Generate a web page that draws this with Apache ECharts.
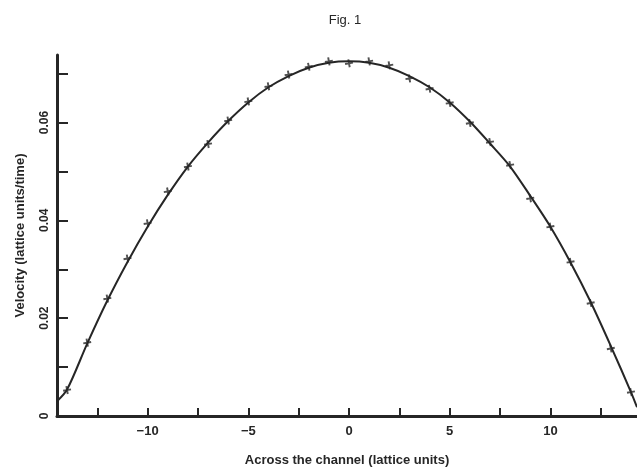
<!DOCTYPE html>
<html>
<head>
<meta charset="utf-8">
<script src="https://cdn.jsdelivr.net/npm/echarts@6/dist/echarts.min.js"></script>
<style>
  html, body { margin: 0; padding: 0; background: #fff; }
  #chart { width: 637px; height: 468px; }
</style>
</head>
<body>
<div id="chart"></div>
<script>
  // positions across the channel (lattice units) where the simulation was sampled
  const across = [-14, -13, -12, -11, -10, -9, -8, -7, -6, -5, -4, -3, -2, -1, 0,
                  1, 2, 3, 4, 5, 6, 7, 8, 9, 10, 11, 12, 13, 14]
  // simulated velocity at those points (the "+" marks)
  const velocity = [0.0053, 0.0150, 0.0240, 0.0322, 0.0394, 0.0459, 0.0510, 0.0556, 0.0604, 0.0643,
                    0.0674, 0.0698, 0.0714, 0.0725, 0.0721, 0.0725, 0.0717, 0.0690, 0.0669, 0.0640,
                    0.0599, 0.0560, 0.0513, 0.0445, 0.0387, 0.0315, 0.0231, 0.0138, 0.0049]
  // solid reference curve
  const curveX = [-14.5, -14, -13, -12, -11, -10, -9, -8, -7, -6, -5, -4, -3, -2, -1, 0,
                  1, 2, 3, 4, 5, 6, 7, 8, 9, 10, 11, 12, 13, 14, 14.3]
  const curveY = [0.0030, 0.0054, 0.0148, 0.0236, 0.0315, 0.0387, 0.0452, 0.0510, 0.0559, 0.0603, 0.0641,
                  0.0672, 0.0695, 0.0712, 0.0722, 0.0725, 0.0722, 0.0712, 0.0695, 0.0672, 0.0641,
                  0.0602, 0.0557, 0.0510, 0.0450, 0.0387, 0.0314, 0.0233, 0.0143, 0.0049, 0.0018]

  const xTicks = [-12.5, -10, -7.5, -5, -2.5, 0, 2.5, 5, 7.5, 10, 12.5]
  const xLabels = [-10, -5, 0, 5, 10]
  const yTicks = [0.01, 0.02, 0.03, 0.04, 0.05, 0.06, 0.07]
  const yLabels = [0, 0.02, 0.04, 0.06]

  const ink = '#262626'
  const font = 'Liberation Sans, Arial, sans-serif'

  const points = across.map((x, i) => [x, velocity[i]])
  const curve = curveX.map((x, i) => [x, curveY[i]])

  const chart = echarts.init(document.getElementById('chart'))
  chart.setOption({
    animation: false,
    backgroundColor: '#fff',
    title: {
      text: 'Fig. 1',
      left: 340,
      textAlign: 'center',
      top: 9,
      textStyle: { fontFamily: font, fontSize: 13, fontWeight: 'normal', color: ink }
    },
    grid: { left: 57, right: 0, top: 55, bottom: 52, containLabel: false, outerBoundsMode: 'none' },
    xAxis: {
      type: 'value',
      min: -14.5,
      max: 14.3,
      name: 'Across the channel (lattice units)',
      nameLocation: 'middle',
      nameGap: 38,
      nameTextStyle: { fontFamily: font, fontSize: 13, fontWeight: 'bold', color: ink },
      axisLine: { onZero: false, lineStyle: { color: ink, width: 3 } },
      axisTick: { inside: true, length: 8, customValues: xTicks, lineStyle: { color: ink, width: 2 } },
      axisLabel: {
        customValues: xLabels,
        margin: 9,
        fontFamily: font, fontSize: 13, fontWeight: 'bold', color: ink,
        formatter: v => (v < 0 ? '\u2212' + Math.abs(v) : String(v))
      },
      splitLine: { show: false }
    },
    yAxis: {
      type: 'value',
      min: 0,
      max: 0.0738,
      name: 'Velocity (lattice units/time)',
      nameLocation: 'middle',
      nameGap: 30,
      nameMoveOverlap: false,
      nameTextStyle: { fontFamily: font, fontSize: 13, fontWeight: 'bold', color: ink },
      axisLine: { onZero: false, lineStyle: { color: ink, width: 3 } },
      axisTick: { inside: true, length: 11, customValues: yTicks, lineStyle: { color: ink, width: 2 } },
      axisLabel: {
        customValues: yLabels,
        rotate: 90,
        margin: 6,
        fontFamily: font, fontSize: 12, fontWeight: 'bold', color: ink,
        formatter: v => (v === 0 ? '0' : v.toFixed(2))
      },
      splitLine: { show: false }
    },
    series: [
      {
        type: 'line',
        data: curve,
        smooth: 0.3,
        showSymbol: false,
        lineStyle: { color: ink, width: 2 },
        z: 2
      },
      {
        type: 'scatter',
        data: points,
        symbol: 'path://M-1.2,-5H1.2V5H-1.2ZM-5,-1.2H5V1.2H-5Z',
        symbolSize: 8,
        symbolRotate: 10,
        itemStyle: { color: ink },
        z: 3
      }
    ]
  })
</script>
</body>
</html>
